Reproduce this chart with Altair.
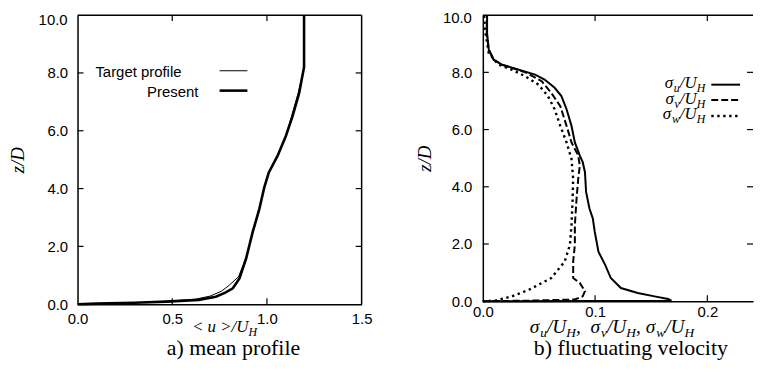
import altair as alt
import pandas as pd

# ---------------- data ----------------
present_z = [0.0, 0.02, 0.05, 0.09, 0.15, 0.26, 0.40, 0.55, 0.89, 1.58, 2.5, 3.3, 4.04, 4.56, 5.13, 5.82, 6.5, 7.3, 8.2, 10.0]
present_u = [0.0, 0.10, 0.30, 0.47, 0.64, 0.73, 0.78, 0.82, 0.855, 0.89, 0.925, 0.96, 0.986, 1.01, 1.056, 1.10, 1.135, 1.17, 1.196, 1.196]

target_z = [0.0, 0.02, 0.05, 0.10, 0.17, 0.28, 0.45, 0.65, 0.95, 1.6, 2.5, 3.3, 4.04, 4.56, 5.13, 5.82, 6.5, 7.3, 8.2, 10.0]
target_u = [0.0, 0.10, 0.30, 0.47, 0.62, 0.70, 0.76, 0.80, 0.85, 0.89, 0.925, 0.96, 0.986, 1.01, 1.056, 1.10, 1.13, 1.165, 1.196, 1.196]

su_z = [0.0, 0.02, 0.08, 0.17, 0.29, 0.46, 0.81, 1.27, 1.73, 2.43, 2.89, 3.24, 3.82, 4.51, 4.86, 5.09, 5.55, 6.13, 6.71, 7.17, 7.46, 7.75, 7.92, 8.09, 8.27, 8.44, 8.79, 9.36, 10.0]
su_x = [0.0, 0.168, 0.165, 0.153, 0.138, 0.123, 0.114, 0.109, 0.103, 0.0997, 0.098, 0.095, 0.092, 0.091, 0.089, 0.0864, 0.082, 0.079, 0.0746, 0.070, 0.064, 0.055, 0.0466, 0.032, 0.017, 0.0097, 0.0053, 0.0038, 0.0038]

sv_z = [0.0, 0.02, 0.06, 0.17, 0.35, 0.64, 0.81, 1.39, 1.97, 2.66, 3.58, 4.28, 4.74, 5.09, 5.55, 6.13, 6.82, 7.28, 7.69, 8.0, 8.27, 8.44, 8.79, 9.36, 10.0]
sv_x = [0.0, 0.041, 0.082, 0.089, 0.091, 0.0864, 0.0805, 0.0805, 0.082, 0.082, 0.0835, 0.085, 0.0864, 0.085, 0.079, 0.0746, 0.069, 0.061, 0.0525, 0.038, 0.017, 0.0097, 0.0053, 0.0035, 0.0035]

sw_z = [0.0, 0.02, 0.17, 0.40, 0.81, 1.39, 1.97, 2.66, 3.58, 4.28, 4.97, 5.55, 6.13, 6.71, 7.17, 7.57, 7.86, 8.09, 8.27, 8.67, 9.36, 10.0]
sw_x = [0.0, 0.011, 0.026, 0.041, 0.061, 0.073, 0.0776, 0.079, 0.080, 0.0805, 0.079, 0.0746, 0.069, 0.064, 0.058, 0.0496, 0.038, 0.026, 0.014, 0.0053, 0.0024, 0.001]

left_x_ticks = [0.0, 0.5, 1.0, 1.5]
right_x_ticks = [0.0, 0.1, 0.2]
y_ticks = [0.0, 2.0, 4.0, 6.0, 8.0]
y_top_label = "10.0"

# ---------------- styling ----------------
SERIF = "Liberation Serif"
SANS = "Liberation Sans"
LW, LH = 286, 291
RW, RH = 272, 288
RMAX = 0.2407
TICK = 6

WID = {'σ': 0.54, 'u': 0.5, 'v': 0.444, 'w': 0.667, 'U': 0.722, 'H': 0.722,
       '/': 0.278, ',': 0.25, ' ': 0.25, '<': 0.675, '>': 0.675}


def txt(s, x, y, size, font=SERIF, style="normal", align="left", baseline="alphabetic"):
    return alt.Chart(pd.DataFrame({"t": [s]})).mark_text(
        font=font, fontSize=size, fontStyle=style, align=align,
        baseline=baseline, color="black"
    ).encode(x=alt.value(x), y=alt.value(y), text="t:N")


def rich(pieces, x0, y0, main, sub, align="left"):
    widths = [sum(WID.get(c, 0.5) for c in t) * (sub if s else main) for t, s in pieces]
    total = sum(widths)
    x = x0
    if align == "center":
        x = x0 - total / 2
    elif align == "right":
        x = x0 - total
    out = []
    for (t, s), w in zip(pieces, widths):
        out.append(txt(t, x, y0 + (4 if s else 0), sub if s else main, style="italic"))
        x += w
    return out


def line_df(xs, zs):
    return pd.DataFrame({"x": xs, "z": zs, "i": list(range(len(xs)))})


def panel(xdom, xticks, inner_xticks, W, H, series, ytitle_pad, ylabel_pad, xlabel_pad,
          top_label_y, right_frame=True):
    xs = alt.Scale(domain=xdom, nice=False, zero=False)
    ys = alt.Scale(domain=[0, 10], nice=False, zero=False)
    xax = alt.Axis(values=xticks, format=".1f", title=None, ticks=False,
                   labelPadding=xlabel_pad, labelFlush=False, grid=False,
                   domainColor="black", domainWidth=1.5,
                   labelFont=SANS, labelFontSize=15, labelColor="black")
    yax = alt.Axis(values=y_ticks, format=".1f", title="z/D", ticks=False,
                   labelPadding=ylabel_pad, titlePadding=ytitle_pad, grid=False,
                   labelFlush=False,
                   domainColor="black", domainWidth=1.5,
                   labelFont=SANS, labelFontSize=15, labelColor="black",
                   titleFont=SERIF, titleFontStyle="italic", titleFontWeight="normal",
                   titleFontSize=19, titleColor="black")
    layers = []
    for xs_, zs_, width, dash in series:
        enc = dict(
            x=alt.X("x:Q", scale=xs, axis=xax),
            y=alt.Y("z:Q", scale=ys, axis=yax),
            order=alt.Order("i:Q"),
        )
        mk = dict(color="black", strokeWidth=width)
        if dash:
            mk["strokeDash"] = dash
        layers.append(alt.Chart(line_df(xs_, zs_)).mark_line(**mk).encode(**enc))

    # frame (top and right)
    layers.append(alt.Chart(pd.DataFrame({"a": [0]})).mark_rule(color="black", strokeWidth=1.5).encode(
        x=alt.value(0), x2=alt.value(W), y=alt.value(0)))
    if right_frame:
        layers.append(alt.Chart(pd.DataFrame({"a": [0]})).mark_rule(color="black", strokeWidth=1.5).encode(
            x=alt.value(W), y=alt.value(0), y2=alt.value(H)))

    # inward ticks
    tx = pd.DataFrame({"x": inner_xticks})
    ty = pd.DataFrame({"z": [2.0, 4.0, 6.0, 8.0]})
    layers.append(alt.Chart(tx).mark_rule(color="black", strokeWidth=1.2).encode(
        x=alt.X("x:Q", scale=xs, axis=xax), y=alt.value(H), y2=alt.value(H - TICK)))
    layers.append(alt.Chart(tx).mark_rule(color="black", strokeWidth=1.2).encode(
        x=alt.X("x:Q", scale=xs, axis=xax), y=alt.value(0), y2=alt.value(TICK)))
    layers.append(alt.Chart(ty).mark_rule(color="black", strokeWidth=1.2).encode(
        y=alt.Y("z:Q", scale=ys, axis=yax), x=alt.value(0), x2=alt.value(TICK)))
    layers.append(alt.Chart(ty).mark_rule(color="black", strokeWidth=1.2).encode(
        y=alt.Y("z:Q", scale=ys, axis=yax), x=alt.value(W - TICK), x2=alt.value(W)))
    # top y label (10.0), sits slightly below the frame top as in the reference
    layers.append(txt(y_top_label, -ylabel_pad, top_label_y, 15, font=SANS, align="right", baseline="middle"))
    return layers


# ---------------- left panel ----------------
left_layers = panel([0, 1.5], left_x_ticks, [0.5, 1.0], LW, LH,
                    [(target_u, target_z, 1.0, None), (present_u, present_z, 2.6, None)],
                    ytitle_pad=20, ylabel_pad=10, xlabel_pad=7, top_label_y=5)
# legend
left_layers.append(txt("Target profile", 18, 62, 15, font=SANS))
left_layers.append(txt("Present", 70, 82, 15, font=SANS))
left_layers.append(alt.Chart(pd.DataFrame({"a": [0]})).mark_rule(color="black", strokeWidth=1.0).encode(
    x=alt.value(143), x2=alt.value(171), y=alt.value(56)))
left_layers.append(alt.Chart(pd.DataFrame({"a": [0]})).mark_rule(color="black", strokeWidth=2.6).encode(
    x=alt.value(143), x2=alt.value(171), y=alt.value(76)))
# axis title and caption
left_layers += rich([("< u >/U", False), ("H", True)], 148, 319, 17, 12, align="center")
left_layers.append(txt("a) mean profile", 157, 342, 22, align="center"))

left = alt.layer(*left_layers).properties(width=LW, height=LH)

# ---------------- right panel ----------------
right_layers = panel([0, RMAX], right_x_ticks, [0.1, 0.2], RW, RH,
                     [(su_x, su_z, 2.0, None), (sv_x, sv_z, 2.0, [7, 3]), (sw_x, sw_z, 2.4, [2.4, 3.6])],
                     ytitle_pad=17, ylabel_pad=11, xlabel_pad=3, top_label_y=3, right_frame=False)
# legend
leg_rows = [("u", 73, 70, None), ("v", 89, 85.5, [7, 3]), ("w", 105, 101.5, [2.4, 3.6])]
for sub, base, ly, dash in leg_rows:
    right_layers += rich([("σ", False), (sub, True), ("/U", False), ("H", True)], 224, base, 17, 12, align="right")
    mk = dict(color="black", strokeWidth=2.0 if dash != [2.4, 3.6] else 2.4)
    if dash:
        mk["strokeDash"] = dash
    right_layers.append(alt.Chart(pd.DataFrame({"a": [0]})).mark_rule(**mk).encode(
        x=alt.value(230), x2=alt.value(259), y=alt.value(ly)))
# axis title and caption
right_layers += rich([("σ", False), ("u", True), ("/U", False), ("H", True), (" , ", False),
                      ("σ", False), ("v", True), ("/U", False), ("H", True), (", ", False),
                      ("σ", False), ("w", True), ("/U", False), ("H", True)],
                     130, 320, 19.5, 13.5, align="center")
right_layers.append(txt("b) fluctuating velocity", 149, 342, 22, align="center"))

right = alt.layer(*right_layers).properties(width=RW, height=RH)

chart = alt.hconcat(left, right, spacing=43).properties(
    padding={"left": 0, "top": 0, "right": 0, "bottom": 0},
    background="white",
).configure_view(stroke=None)

chart.save("out.html", embed_options={"renderer": "svg", "actions": False})
